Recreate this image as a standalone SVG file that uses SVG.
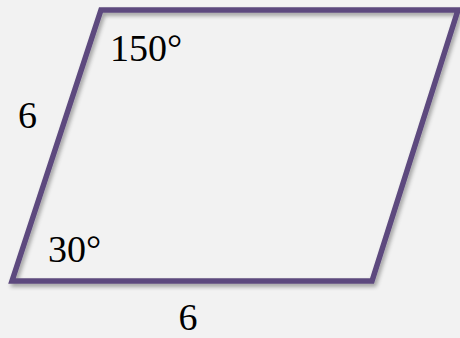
<svg xmlns="http://www.w3.org/2000/svg" width="460" height="338" viewBox="0 0 460 338">
<defs>
<style>
.lbl{font-family:"Liberation Serif","Times New Roman",serif;font-size:38px;fill:#000}
.shape{fill:none;stroke:#5d4a7e;stroke-width:5.5;stroke-linejoin:miter}
</style>
<filter id="sh" x="-10%" y="-10%" width="120%" height="130%">
<feGaussianBlur in="SourceAlpha" stdDeviation="2"/>
<feOffset dx="2" dy="3" result="b"/>
<feComponentTransfer><feFuncA type="linear" slope="0.35"/></feComponentTransfer>
<feMerge><feMergeNode/><feMergeNode in="SourceGraphic"/></feMerge>
</filter>
</defs>
<rect width="460" height="338" fill="#f2f2f2"/>
<g id="parallelogram">
<polygon class="shape" filter="url(#sh)" points="101,10 458,10 372,281 12,281"/>
</g>
<g id="labels">
<text class="lbl" x="110" y="61">150°</text>
<text class="lbl" x="48" y="262">30°</text>
<text class="lbl" x="27.5" y="128" text-anchor="middle">6</text>
<text class="lbl" x="188" y="329.5" text-anchor="middle">6</text>
</g>
</svg>
